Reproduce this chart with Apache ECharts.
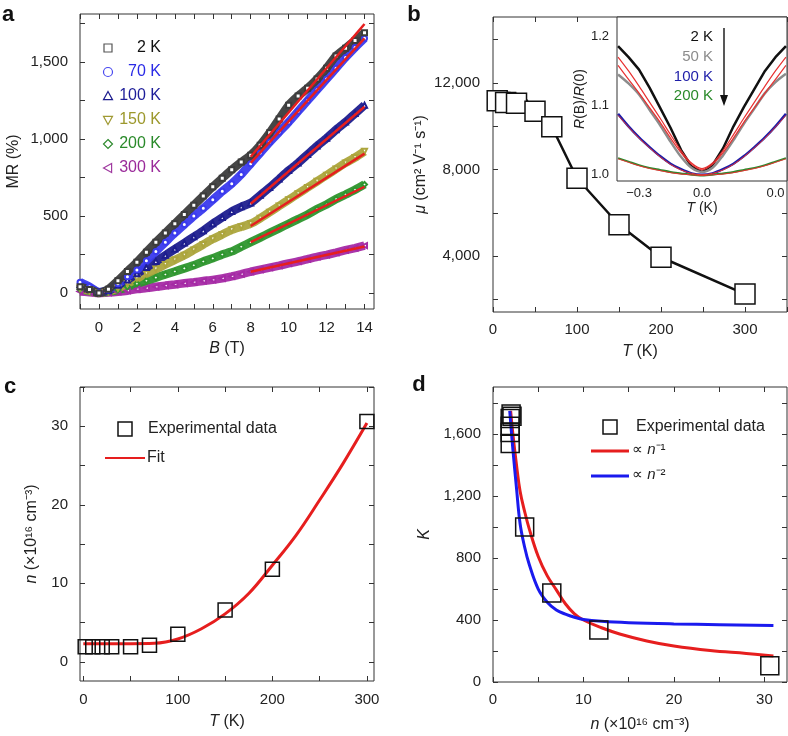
<!DOCTYPE html>
<html>
<head>
<meta charset="utf-8">
<script src="https://cdn.jsdelivr.net/npm/echarts@6/dist/echarts.min.js"></script>
<style>
html, body { margin: 0; background: #fff; }
#chart { width: 788px; height: 736px; }
</style>
</head>
<body>
<div id="chart"></div>
<script>
// ---- panel a: MR vs B ----
const fieldB = [-1, -0.5, 0, 0.5, 1, 1.5, 2, 2.5, 3, 3.5, 4, 4.5, 5, 5.5, 6, 6.5, 7, 7.5, 8, 8.5, 9, 9.5, 10, 10.5, 11, 11.5, 12, 12.5, 13, 13.5, 14]
const mr2K = [40, 22, 0, 25, 80, 140, 200, 265, 330, 390, 450, 510, 570, 630, 690, 745, 800, 850, 895, 960, 1040, 1130, 1220, 1280, 1330, 1390, 1460, 1540, 1590, 1640, 1690]
const mr70K = [70, 40, 5, 20, 60, 105, 150, 210, 270, 330, 390, 445, 500, 550, 605, 660, 710, 770, 840, 910, 980, 1045, 1110, 1180, 1250, 1320, 1390, 1460, 1530, 1595, 1655]
const mr100K = [55, 30, 5, 15, 50, 85, 125, 165, 205, 245, 285, 325, 365, 405, 450, 490, 530, 560, 585, 635, 685, 740, 795, 845, 900, 955, 1005, 1060, 1110, 1165, 1220]
const mr150K = [30, 15, 3, 10, 30, 60, 95, 125, 155, 185, 215, 245, 280, 315, 350, 380, 410, 430, 450, 485, 525, 565, 605, 645, 685, 725, 765, 805, 845, 880, 920]
const mr200K = [25, 12, 2, 8, 20, 40, 60, 80, 100, 120, 140, 160, 180, 205, 225, 250, 270, 300, 330, 360, 390, 420, 450, 480, 510, 545, 575, 610, 640, 670, 705]
const mr300K = [10, 5, 0, 3, 8, 15, 25, 32, 40, 48, 55, 63, 70, 78, 85, 95, 108, 122, 138, 152, 165, 178, 192, 205, 220, 235, 248, 262, 278, 292, 308]
const fitB = [8, 14]
const fit2K = [885, 1747]
const fit70K = [845, 1654]
const fit100K = [580, 1210]
const fit150K = [435, 905]
const fit200K = [330, 690]
const fit300K = [138, 302]

// ---- panel b: mobility vs T ----
const muT = [5, 15, 28, 50, 70, 100, 150, 200, 300]
const mu = [11180, 11100, 11060, 10700, 9980, 7600, 5450, 3950, 2250]
const muLineT = [0, 20, 35, 50, 70, 100, 150, 200, 300]
const muLine = [11580, 11540, 11450, 10700, 9980, 7600, 5450, 3950, 2250]

// inset: R(B)/R(0)
const insetX = [-0.4, -0.35, -0.3, -0.25, -0.2, -0.15, -0.1, -0.05, 0, 0.05, 0.1, 0.15, 0.2, 0.25, 0.3, 0.35, 0.4]
const r2K = [1.186, 1.170, 1.152, 1.126, 1.097, 1.068, 1.036, 1.012, 1.004, 1.014, 1.038, 1.070, 1.098, 1.124, 1.150, 1.170, 1.186]
const r50K = [1.145, 1.132, 1.116, 1.094, 1.072, 1.048, 1.026, 1.010, 1.004, 1.010, 1.028, 1.050, 1.074, 1.096, 1.118, 1.134, 1.146]
const r100K = [1.088, 1.070, 1.054, 1.040, 1.027, 1.016, 1.008, 1.002, 1.000, 1.002, 1.008, 1.016, 1.027, 1.040, 1.054, 1.070, 1.088]
const r200K = [1.024, 1.019, 1.014, 1.010, 1.007, 1.004, 1.002, 1.000, 0.999, 1.000, 1.002, 1.004, 1.007, 1.010, 1.014, 1.019, 1.024]
const rFit2K = [1.170, 1.150, 1.128, 1.105, 1.082, 1.058, 1.035, 1.017, 1.009, 1.017, 1.035, 1.058, 1.082, 1.105, 1.128, 1.150, 1.170]
const rFit50K = [1.158, 1.138, 1.118, 1.097, 1.076, 1.053, 1.032, 1.015, 1.007, 1.015, 1.032, 1.053, 1.076, 1.097, 1.118, 1.138, 1.158]
const rFit100K = [1.086, 1.069, 1.053, 1.039, 1.026, 1.015, 1.007, 1.002, 1.000, 1.002, 1.007, 1.015, 1.026, 1.039, 1.053, 1.069, 1.086]
const rFit200K = [1.023, 1.018, 1.013, 1.009, 1.006, 1.003, 1.001, 1.000, 0.999, 1.000, 1.001, 1.003, 1.006, 1.009, 1.013, 1.018, 1.023]

// ---- panel c: carrier density vs T ----
const nT = [2, 10, 20, 30, 50, 70, 100, 150, 200, 300]
const nVal = [1.9, 1.9, 1.9, 1.9, 1.9, 2.1, 3.5, 6.6, 11.8, 30.6]
const nFitT = [0, 25, 50, 75, 100, 125, 150, 175, 200, 225, 250, 275, 300]
const nFit = [2.3, 2.3, 2.3, 2.35, 2.9, 4.2, 6.1, 8.7, 12.3, 16.1, 20.6, 25.3, 30.4]

// ---- panel d: K vs n ----
const kN = [1.9, 2.0, 1.9, 1.9, 1.9, 2.1, 3.5, 6.5, 11.7, 30.6]
const kVal = [1700, 1730, 1650, 1610, 1540, 1715, 1000, 575, 335, 105]
const inv1N = [1.95, 2.2, 2.6, 3, 3.5, 4, 5, 6, 7, 8, 9, 10, 12, 14, 17, 20, 24, 28, 31]
const inv1K = [1750, 1600, 1400, 1230, 1100, 990, 810, 685, 595, 505, 440, 400, 350, 310, 265, 232, 203, 184, 168]
const inv2N = [1.85, 2.2, 2.6, 3, 3.5, 4, 5, 6, 7, 8, 9, 10, 12, 15, 20, 25, 31]
const inv2K = [1750, 1500, 1250, 1020, 870, 760, 600, 515, 465, 438, 418, 404, 392, 383, 375, 370, 365]

const FONT = '"Liberation Sans", Arial, Helvetica, sans-serif'
const INK = '#222'
const comma = v => Math.round(v).toLocaleString('en-US')

const xAxis = []
const yAxis = []
// main axis plus a mirrored one so ticks show on all four sides
function addAxes(list, grid, pos, mirror, c) {
	const tick = { inside: true, length: 5, customValues: c.ticks, lineStyle: { color: '#333', width: 1 } }
	list.push({
		type: 'value', gridIndex: grid, position: pos, min: c.min, max: c.max,
		axisLine: { show: false, onZero: false },
		axisTick: tick,
		splitLine: { show: false },
		axisLabel: {
			customValues: c.labels, formatter: c.fmt || comma,
			color: INK, fontFamily: FONT, fontSize: c.fs || 15, margin: c.margin || 11,
		},
		name: c.name, nameLocation: 'middle', nameGap: c.gap,
		nameTextStyle: {
			color: INK, fontFamily: FONT, fontSize: c.nfs || 16,
			rich: { i: { fontStyle: 'italic', fontFamily: FONT, fontSize: c.nfs || 16, color: INK } },
		},
	})
	list.push({
		type: 'value', gridIndex: grid, position: mirror, min: c.min, max: c.max,
		axisLine: { show: false, onZero: false }, axisTick: tick,
		axisLabel: { show: false }, splitLine: { show: false },
	})
	return list.length - 2
}
const range = (a, b, s) => { const r = []; for (let v = a; v <= b + 1e-9; v += s) r.push(+v.toFixed(4)); return r }

const ax = {}, ay = {}
ax.a = addAxes(xAxis, 0, 'bottom', 'top', { min: -1, max: 14.5, labels: [0, 2, 4, 6, 8, 10, 12, 14], ticks: range(-1, 14, 1), name: '{i|B} (T)', gap: 32 })
ay.a = addAxes(yAxis, 0, 'left', 'right', { min: -104, max: 1812, labels: [0, 500, 1000, 1500], ticks: range(0, 1750, 250), name: 'MR (%)', gap: 58, margin: 12 })
ax.b = addAxes(xAxis, 1, 'bottom', 'top', { min: 0, max: 350, labels: [0, 100, 200, 300], ticks: range(0, 350, 50), name: '{i|T} (K)', gap: 32, margin: 10 })
ay.b = addAxes(yAxis, 1, 'left', 'right', { min: 1420, max: 15050, labels: [4000, 8000, 12000], ticks: range(2000, 14000, 2000), name: '{i|μ} (cm² V⁻¹ s⁻¹)', gap: 64, margin: 13 })
ax.in = addAxes(xAxis, 2, 'bottom', 'top', { min: -0.405, max: 0.405, labels: [-0.3, 0, 0.35], ticks: [-0.3, -0.15, 0, 0.15, 0.3], fmt: v => (v < -0.1 ? '−0.3' : '0.0'), fs: 13, margin: 6, name: '{i|T} (K)', gap: 20, nfs: 14 })
ay.in = addAxes(yAxis, 2, 'left', 'right', { min: 0.991, max: 1.228, labels: [1.0, 1.1, 1.2], ticks: [1.0, 1.05, 1.1, 1.15, 1.2], fmt: v => v.toFixed(1), fs: 13, margin: 8, name: '{i|R}(B)/{i|R}(0)', gap: 22, nfs: 14 })
ax.c = addAxes(xAxis, 3, 'bottom', 'top', { min: -3.5, max: 307.5, labels: [0, 100, 200, 300], ticks: range(0, 300, 50), name: '{i|T} (K)', gap: 33 })
ay.c = addAxes(yAxis, 3, 'left', 'right', { min: -2.45, max: 35, labels: [0, 10, 20, 30], ticks: range(0, 35, 5), name: '{i|n} (×10¹⁶ cm⁻³)', gap: 40, margin: 12 })
ax.d = addAxes(xAxis, 4, 'bottom', 'top', { min: 0, max: 32.5, labels: [0, 10, 20, 30], ticks: range(0, 30, 5), name: '{i|n} (×10¹⁶ cm⁻³)', gap: 35, margin: 10 })
ay.d = addAxes(yAxis, 4, 'left', 'right', { min: 0, max: 1904, labels: [0, 400, 800, 1200, 1600], ticks: range(0, 1800, 200), name: '{i|K}', gap: 60, margin: 12 })

const zip = (xs, ys) => xs.map((x, i) => [x, ys[i]])

function band(name, ys, color, symbol, rot) {
	return {
		type: 'line', name, xAxisIndex: ax.a, yAxisIndex: ay.a, data: zip(fieldB, ys),
		symbol, symbolRotate: rot || 0, symbolSize: 5, showSymbol: true, showAllSymbol: true,
		smooth: 0.2, lineStyle: { color, width: 8.5, opacity: 0.95 },
		itemStyle: { color, borderWidth: 1 }, z: 2,
	}
}
function fitLine(xi, yi, xs, ys, color, width, z, smooth) {
	return {
		type: 'line', xAxisIndex: xi, yAxisIndex: yi, data: zip(xs, ys), symbol: 'none',
		smooth: smooth || 0, lineStyle: { color, width }, z: z || 3,
	}
}
function squares(xi, yi, xs, ys, size, fill) {
	return {
		type: 'scatter', xAxisIndex: xi, yAxisIndex: yi, data: zip(xs, ys), symbol: 'rect', symbolSize: size,
		itemStyle: { color: fill, borderColor: '#111', borderWidth: 1.5, opacity: 1 }, z: 4,
	}
}

const RED = '#e61e1e'
const series = [
	band('300 K', mr300K, '#a52aa5', 'emptyTriangle', 90),
	band('200 K', mr200K, '#2e962e', 'emptyDiamond'),
	band('150 K', mr150K, '#aca53c', 'emptyTriangle', 180),
	band('100 K', mr100K, '#1d1d8e', 'emptyTriangle'),
	band('70 K', mr70K, '#3a3aee', 'emptyCircle'),
	band('2 K', mr2K, '#3c3c3c', 'emptyRect'),
	fitLine(ax.a, ay.a, fitB, fit2K, RED, 2.5),
	fitLine(ax.a, ay.a, fitB, fit70K, RED, 2.5),
	fitLine(ax.a, ay.a, fitB, fit100K, RED, 2.5),
	fitLine(ax.a, ay.a, fitB, fit150K, RED, 2.5),
	fitLine(ax.a, ay.a, fitB, fit200K, RED, 2.5),
	fitLine(ax.a, ay.a, fitB, fit300K, RED, 2.5),

	fitLine(ax.b, ay.b, muLineT, muLine, '#111', 2.5, 2),
	squares(ax.b, ay.b, muT, mu, 20, '#fff'),

	fitLine(ax.in, ay.in, insetX, r2K, '#111', 2.5, 2),
	fitLine(ax.in, ay.in, insetX, r50K, '#8c8c8c', 2.5, 2, 0.3),
	fitLine(ax.in, ay.in, insetX, r100K, '#1e1ea8', 2.5, 2, 0.3),
	fitLine(ax.in, ay.in, insetX, r200K, '#2e8a2e', 2, 2, 0.3),
	fitLine(ax.in, ay.in, insetX, rFit2K, '#e83030', 1.2, 3, 0.3),
	fitLine(ax.in, ay.in, insetX, rFit50K, '#e83030', 1.2, 3, 0.3),
	fitLine(ax.in, ay.in, insetX, rFit100K, '#e83030', 1, 3, 0.3),
	fitLine(ax.in, ay.in, insetX, rFit200K, '#e83030', 1, 3, 0.3),

	fitLine(ax.c, ay.c, nFitT, nFit, RED, 3, 3, 0.4),
	squares(ax.c, ay.c, nT, nVal, 14, 'rgba(0,0,0,0)'),

	fitLine(ax.d, ay.d, inv1N, inv1K, RED, 3, 3, 0.4),
	fitLine(ax.d, ay.d, inv2N, inv2K, '#1a1aee', 3, 3, 0.4),
	squares(ax.d, ay.d, kN, kVal, 18, 'rgba(0,0,0,0)'),
]

// legends and labels
const txt = (x, y, text, o) => ({
	type: 'text', x, y, z: 20,
	style: Object.assign({ text, fontFamily: FONT, fontSize: 16, fill: INK, textVerticalAlign: 'middle' }, o || {}),
})
const legendA = [
	['2 K', '#555', '#111', 'rect'],
	['70 K', '#4848f0', '#2a2ae6', 'circle'],
	['100 K', '#1d1d8e', '#1d1d99', 'up'],
	['150 K', '#a09a34', '#9c982c', 'down'],
	['200 K', '#2e8a2e', '#2a8a2a', 'diamond'],
	['300 K', '#a03aa0', '#9a2a9a', 'left'],
]
const graphics = []
legendA.forEach(([name, sym, col, shape], i) => {
	const cx = 108, cy = 48 + i * 24, s = 4.5
	const st = { fill: 'none', stroke: sym, lineWidth: 1.2 }
	let g
	if (shape === 'rect') g = { type: 'rect', shape: { x: cx - 4, y: cy - 4, width: 8, height: 8 }, style: st }
	else if (shape === 'circle') g = { type: 'circle', shape: { cx, cy, r: s }, style: st }
	else {
		const pts = {
			up: [[cx, cy - s], [cx + s, cy + s * 0.8], [cx - s, cy + s * 0.8]],
			down: [[cx, cy + s], [cx + s, cy - s * 0.8], [cx - s, cy - s * 0.8]],
			diamond: [[cx, cy - s], [cx + s, cy], [cx, cy + s], [cx - s, cy]],
			left: [[cx - s, cy], [cx + s * 0.8, cy - s], [cx + s * 0.8, cy + s]],
		}[shape]
		g = { type: 'polygon', shape: { points: pts }, style: st }
	}
	g.z = 20
	graphics.push(g)
	graphics.push(txt(161, cy, name, { fill: col, textAlign: 'right' }))
})

// inset legend + arrow
;[['2 K', '#111'], ['50 K', '#8c8c8c'], ['100 K', '#1e1ea8'], ['200 K', '#2a8a2a']].forEach(([t, c], i) => {
	graphics.push(txt(713, 37 + i * 19.7, t, { fill: c, textAlign: 'right', fontSize: 15 }))
})
graphics.push({ type: 'line', z: 20, shape: { x1: 724, y1: 28, x2: 724, y2: 98 }, style: { stroke: '#111', lineWidth: 1.4 } })
graphics.push({ type: 'polygon', z: 20, shape: { points: [[720, 95], [728, 95], [724, 106]] }, style: { fill: '#111' } })

// legend c
graphics.push({ type: 'rect', z: 20, shape: { x: 118, y: 422, width: 14, height: 14 }, style: { fill: 'none', stroke: '#111', lineWidth: 1.5 } })
graphics.push(txt(148, 429, 'Experimental data'))
graphics.push({ type: 'line', z: 20, shape: { x1: 105, y1: 458, x2: 145, y2: 458 }, style: { stroke: RED, lineWidth: 2 } })
graphics.push(txt(147, 458, 'Fit'))

// legend d
graphics.push({ type: 'rect', z: 20, shape: { x: 603, y: 420, width: 14, height: 14 }, style: { fill: 'none', stroke: '#111', lineWidth: 1.5 } })
graphics.push(txt(636, 427, 'Experimental data'))
graphics.push({ type: 'line', z: 20, shape: { x1: 591, y1: 451, x2: 629, y2: 451 }, style: { stroke: RED, lineWidth: 3 } })
graphics.push({ type: 'line', z: 20, shape: { x1: 591, y1: 476, x2: 629, y2: 476 }, style: { stroke: '#1a1aee', lineWidth: 3 } })
const richI = { i: { fontStyle: 'italic', fontFamily: FONT, fontSize: 15, fill: INK } }
graphics.push(txt(632, 450, '∝ {i|n}⁻¹', { fontSize: 15, rich: richI }))
graphics.push(txt(632, 475, '∝ {i|n}⁻²', { fontSize: 15, rich: richI }))

// panel letters
;[['a', 8, 15], ['b', 414, 15], ['c', 10, 387], ['d', 419, 385]].forEach(([t, x, y]) => {
	graphics.push(txt(x, y, t, { fontSize: 22, fontWeight: 'bold', fill: '#111', textAlign: 'center' }))
})

const gridBase = { show: true, borderColor: '#333', borderWidth: 1, backgroundColor: 'transparent', outerBoundsMode: 'none', containLabel: false }
const option = {
	animation: false,
	grid: [
		Object.assign({}, gridBase, { left: 80, top: 14, width: 294, height: 295 }),
		Object.assign({}, gridBase, { left: 493, top: 17, width: 294, height: 295 }),
		Object.assign({}, gridBase, { left: 617, top: 17, width: 170, height: 164, backgroundColor: '#fff', z: 1 }),
		Object.assign({}, gridBase, { left: 80, top: 387, width: 294, height: 294 }),
		Object.assign({}, gridBase, { left: 493, top: 387, width: 294, height: 295 }),
	],
	xAxis,
	yAxis,
	series,
	graphic: graphics,
}

const chart = echarts.init(document.getElementById('chart'), null, { renderer: 'canvas' })
chart.setOption(option)
</script>
</body>
</html>
